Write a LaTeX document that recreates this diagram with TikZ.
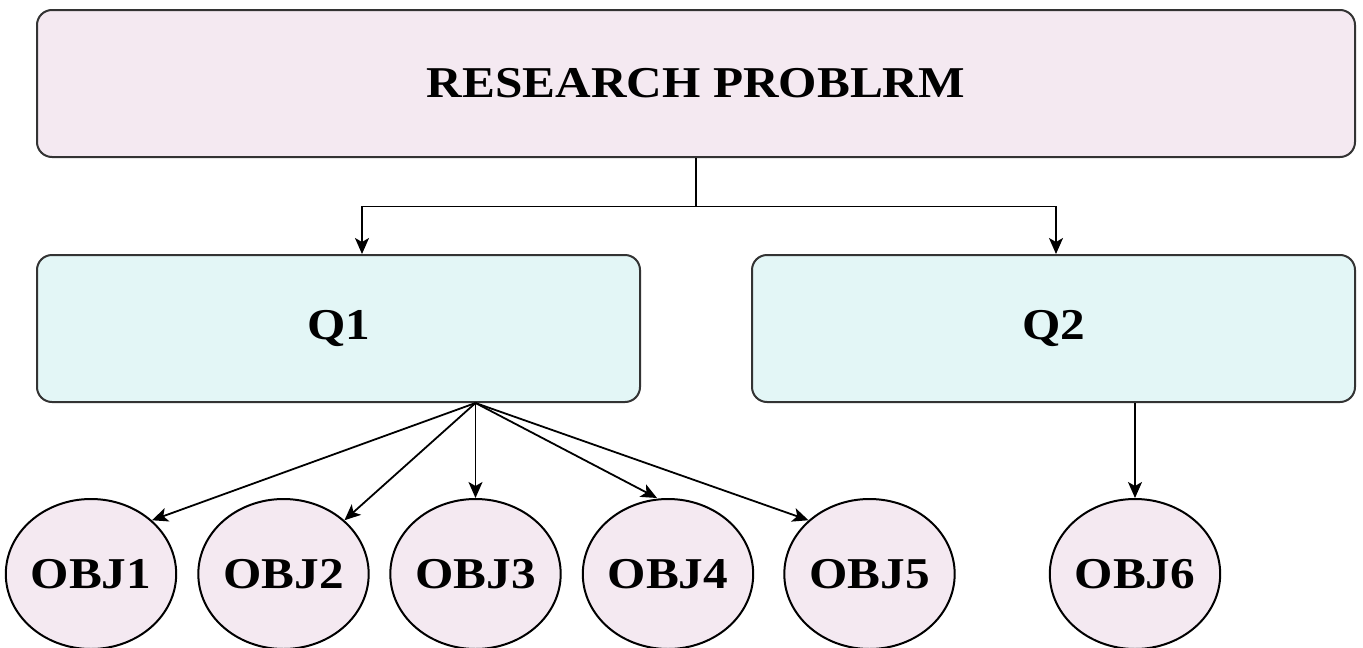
\documentclass[tikz,border=0pt]{standalone}
\usepackage{fontspec}
\setmainfont{Liberation Serif}
\usetikzlibrary{arrows.meta,shapes.geometric,calc}
\definecolor{pinkfill}{HTML}{F4E9F1}
\definecolor{cyanfill}{HTML}{E3F6F6}
\definecolor{border}{HTML}{333333}
\newcommand{\lbl}[1]{\scalebox{1.12}[1]{\fontsize{44}{48}\selectfont\bfseries #1}}
\tikzset{
  bigbox/.style={draw=border, line width=2pt, rounded corners=15pt, inner sep=0pt, anchor=center},
  probbox/.style={bigbox, fill=pinkfill, minimum width=1318pt, minimum height=147pt},
  qbox/.style={bigbox, fill=cyanfill, minimum width=603pt, minimum height=147pt},
  objnode/.style={ellipse, draw=black, line width=2pt, fill=pinkfill, inner sep=0pt, minimum width=163pt, minimum height=150pt},
  arr/.style={draw=black, line width=1.8pt, -{Stealth[length=16pt,width=14pt,inset=4pt]}},
}
\begin{document}
\begin{tikzpicture}[x=1pt,y=-1pt]
\useasboundingbox (0,0) rectangle (1363,648);
\node[probbox] (rp) at (696,83.5) {\lbl{RESEARCH PROBLRM}};
\node[qbox] (q1) at (338.5,328.5) {\lbl{Q1}};
\node[qbox] (q2) at (1053.5,328.5) {\lbl{Q2}};
\node[objnode] (o1) at (91,574) {\lbl{OBJ1}};
\node[objnode] (o2) at (283.5,574) {\lbl{OBJ2}};
\node[objnode] (o3) at (475.5,574) {\lbl{OBJ3}};
\node[objnode] (o4) at (668,574) {\lbl{OBJ4}};
\node[objnode] (o5) at (869.5,574) {\lbl{OBJ5}};
\node[objnode] (o6) at (1135,574) {\lbl{OBJ6}};
\coordinate (split) at ($(rp.south)+(0,48.5)$);
\draw[arr] (rp.south) -- (split) -| ([xshift=23.5pt]q1.north);
\draw[arr] (split) -| ([xshift=2.5pt]q2.north);
\coordinate (fan) at (q1.south -| o3.north);
\draw[arr] (fan) -- (o1.north east);
\draw[arr] (fan) -- (o2.north east);
\draw[arr] (fan) -- (o3.north);
\draw[arr] (fan) -- ([xshift=-11pt]o4.north);
\draw[arr] (fan) -- (o5.north west);
\draw[arr] (q2.south -| o6.north) -- (o6.north);
\end{tikzpicture}
\end{document}
